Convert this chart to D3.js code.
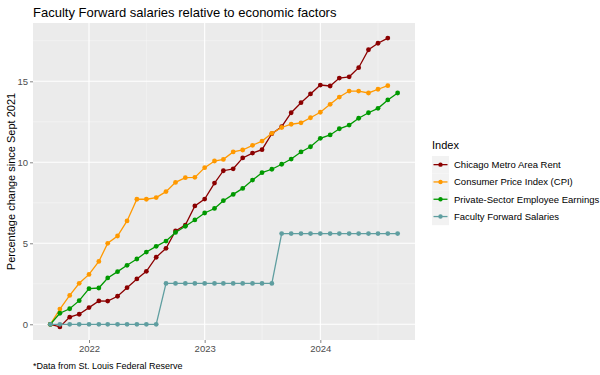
<!DOCTYPE html>
<html><head><meta charset="utf-8">
<script src="https://cdn.jsdelivr.net/npm/d3@7/dist/d3.min.js"></script>
<style>body{margin:0;background:#fff;} svg{display:block;font-family:"Liberation Sans",Arial,sans-serif;}</style>
</head><body><svg id="c" width="600" height="375"></svg>
<script>
const months = ["2021-09","2021-10","2021-11","2021-12","2022-01","2022-02","2022-03","2022-04","2022-05","2022-06","2022-07","2022-08",
"2022-09","2022-10","2022-11","2022-12","2023-01","2023-02","2023-03","2023-04","2023-05","2023-06","2023-07","2023-08",
"2023-09","2023-10","2023-11","2023-12","2024-01","2024-02","2024-03","2024-04","2024-05","2024-06","2024-07","2024-08","2024-09"];
const rent = [0,-0.16,0.44,0.62,1.03,1.44,1.43,1.73,2.26,2.8,3.27,4.14,4.69,5.76,6.12,7.31,7.73,8.72,9.48,9.6,10.27,10.57,10.78,11.77,12.2,13.06,13.68,14.22,14.77,14.71,15.2,15.28,15.84,16.95,17.35,17.67];
const cpi = [0,0.94,1.78,2.53,3.08,3.88,5.0,5.45,6.38,7.72,7.72,7.82,8.19,8.76,9.05,9.07,9.67,10.08,10.18,10.64,10.76,11.05,11.31,11.79,12.15,12.35,12.44,12.75,13.09,13.58,14.03,14.4,14.4,14.28,14.51,14.73];
const earnings = [0,0.68,0.96,1.46,2.2,2.24,2.86,3.25,3.64,4.03,4.46,4.81,5.14,5.67,6.05,6.44,6.87,7.15,7.63,8.02,8.39,8.9,9.36,9.57,9.88,10.2,10.64,10.96,11.48,11.69,12.07,12.3,12.72,13.06,13.33,13.85,14.28];
const salaries = [0,0,0,0,0,0,0,0,0,0,0,0,2.52,2.52,2.52,2.52,2.52,2.52,2.52,2.52,2.52,2.52,2.52,2.52,5.6,5.6,5.6,5.6,5.6,5.6,5.6,5.6,5.6,5.6,5.6,5.6,5.6];
const seriesNames = ["Chicago Metro Area Rent","Consumer Price Index (CPI)","Private-Sector Employee Earnings","Faculty Forward Salaries"];
const seriesColors = ["#8b0000","#ff9900","#009900","#5f9ea0"];
const yTicks = [0,5,10,15];
const xTickYears = ["2022","2023","2024"];

const svg = d3.select("#c");
const L=33, R=415, T=23, B=340;
const parse = d3.timeParse("%Y-%m");
const dates = months.map(parse);
const x = d3.scaleTime().domain(d3.extent(dates)).range([L,R]);
{ const d0=x.domain()[0].getTime(), d1=x.domain()[1].getTime(), e=(d1-d0)*0.05;
  x.domain([new Date(d0-e), new Date(d1+e)]); }
const y = d3.scaleLinear().domain([-0.97,18.6]).range([B,T]);

svg.append("rect").attr("x",L).attr("y",T).attr("width",R-L).attr("height",B-T).attr("fill","#ebebeb");
const g = svg.append("g");
const yMinor=[2.5,7.5,12.5,17.5];
g.selectAll(".ym").data(yMinor).enter().append("line").attr("x1",L).attr("x2",R)
 .attr("y1",d=>y(d)).attr("y2",d=>y(d)).attr("stroke","#f6f6f6").attr("stroke-width",0.6);
const xMinor=["2021-07","2022-07","2023-07","2024-07"].map(parse).filter(d=>x(d)>L&&x(d)<R);
g.selectAll(".xm").data(xMinor).enter().append("line").attr("y1",T).attr("y2",B)
 .attr("x1",d=>x(d)).attr("x2",d=>x(d)).attr("stroke","#f6f6f6").attr("stroke-width",0.6);
g.selectAll(".yM").data(yTicks).enter().append("line").attr("x1",L).attr("x2",R)
 .attr("y1",d=>y(d)).attr("y2",d=>y(d)).attr("stroke","#fff").attr("stroke-width",1.1);
const xMajor = xTickYears.map(d3.timeParse("%Y"));
g.selectAll(".xM").data(xMajor).enter().append("line").attr("y1",T).attr("y2",B)
 .attr("x1",d=>x(d)).attr("x2",d=>x(d)).attr("stroke","#fff").attr("stroke-width",1.1);

const yAxis = d3.axisLeft(y).tickValues(yTicks).tickSize(3).tickPadding(2);
const ya = svg.append("g").attr("transform",`translate(${L},0)`).call(yAxis);
const xAxis = d3.axisBottom(x).tickValues(xMajor).tickFormat(d3.timeFormat("%Y")).tickSize(3).tickPadding(2);
const xa = svg.append("g").attr("transform",`translate(0,${B})`).call(xAxis);
[ya,xa].forEach(a=>{a.select(".domain").remove();
  a.selectAll(".tick line").attr("stroke","#333").attr("stroke-width",0.6);
  a.selectAll(".tick text").attr("fill","#4d4d4d").style("font-size","9.5px").style("font-family","'Liberation Sans',Arial,sans-serif");});

const all=[rent,cpi,earnings,salaries];
const line = d3.line().x((d,i)=>x(dates[i])).y(d=>y(d));
all.forEach((s,k)=>{
  const sg=svg.append("g");
  sg.append("path").datum(s).attr("d",line).attr("fill","none").attr("stroke",seriesColors[k]).attr("stroke-width",1.3);
  sg.selectAll("circle").data(s).enter().append("circle").attr("cx",(d,i)=>x(dates[i])).attr("cy",d=>y(d)).attr("r",2.4).attr("fill",seriesColors[k]);
});

svg.append("text").attr("x",L).attr("y",17).text("Faculty Forward salaries relative to economic factors")
 .attr("fill","#000").style("font-size","13px");
svg.append("text").attr("transform",`translate(15,${(T+B)/2}) rotate(-90)`).attr("text-anchor","middle")
 .text("Percentage change since Sept 2021").style("font-size","11px").attr("fill","#000");
svg.append("text").attr("x",L).attr("y",369).text("*Data from St. Louis Federal Reserve").style("font-size","9px").attr("fill","#000");

const lg = svg.append("g");
lg.append("text").attr("x",432).attr("y",149).text("Index").style("font-size","11px").attr("fill","#000");
const ky0=156, kh=17.3;
seriesNames.forEach((n,k)=>{
  const yy=ky0+k*kh;
  lg.append("rect").attr("x",432).attr("y",yy).attr("width",17).attr("height",kh).attr("fill","#f2f2f2");
  lg.append("line").attr("x1",433.5).attr("x2",447.5).attr("y1",yy+kh/2).attr("y2",yy+kh/2).attr("stroke",seriesColors[k]).attr("stroke-width",1.3);
  lg.append("circle").attr("cx",440.5).attr("cy",yy+kh/2).attr("r",2.2).attr("fill",seriesColors[k]);
  lg.append("text").attr("x",454).attr("y",yy+kh/2+3.3).text(n).style("font-size","9.5px").attr("fill","#000");
});
</script></body></html>
